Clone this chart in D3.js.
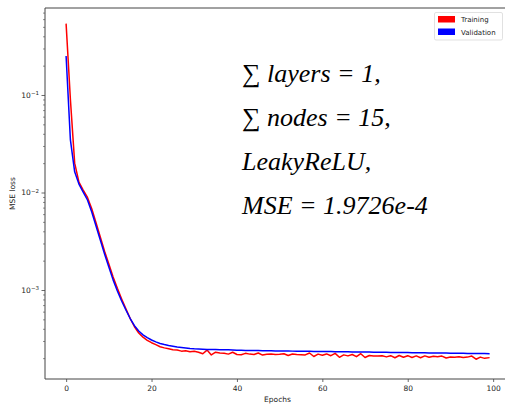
<!DOCTYPE html>
<html>
<head>
<meta charset="utf-8">
<script src="https://cdn.jsdelivr.net/npm/d3@7"></script>
<style>
  html, body { margin: 0; padding: 0; background: #fff; }
  svg { display: block; }
</style>
</head>
<body>
<svg id="chart" width="505" height="408"></svg>
<script>
// ---- data ----
const epochs = d3.range(0, 100);

const training = [
  0.53, 0.09, 0.020, 0.0128, 0.0106, 0.0089, 0.0068, 0.0049, 0.0035, 0.0025,
  0.00185, 0.00136, 0.00104, 8.1e-4, 6.4e-4, 5.1e-4, 4.2e-4, 3.62e-4, 3.28e-4, 3.05e-4,
  2.88e-4, 2.75e-4, 2.62e-4, 2.55e-4, 2.50e-4, 2.44e-4, 2.42e-4, 2.36e-4, 2.38e-4, 2.33e-4,
  2.35e-4, 2.30e-4, 2.22e-4, 2.42e-4, 2.16e-4, 2.30e-4, 2.26e-4, 2.24e-4, 2.20e-4, 2.30e-4,
  2.18e-4, 2.17e-4, 2.24e-4, 2.20e-4, 2.18e-4, 2.26e-4, 2.15e-4, 2.19e-4, 2.20e-4, 2.18e-4,
  2.19e-4, 2.22e-4, 2.13e-4, 2.21e-4, 2.18e-4, 2.17e-4, 2.16e-4, 2.26e-4, 2.08e-4, 2.20e-4,
  2.14e-4, 2.21e-4, 2.12e-4, 2.24e-4, 2.04e-4, 2.16e-4, 2.11e-4, 2.18e-4, 2.07e-4, 2.22e-4,
  2.03e-4, 2.13e-4, 2.11e-4, 2.10e-4, 2.12e-4, 2.06e-4, 2.12e-4, 2.02e-4, 2.13e-4, 2.04e-4,
  2.12e-4, 2.03e-4, 2.11e-4, 2.02e-4, 2.11e-4, 2.04e-4, 2.09e-4, 2.07e-4, 2.10e-4, 2.01e-4,
  2.06e-4, 2.04e-4, 2.07e-4, 2.03e-4, 2.05e-4, 2.10e-4, 1.95e-4, 2.05e-4, 1.99e-4, 2.02e-4
];

const validation = [
  0.247, 0.0346, 0.0163, 0.0122, 0.0101, 0.00838, 0.00631, 0.00453, 0.00326, 0.00234,
  0.00172, 0.00127, 9.77e-4, 7.71e-4, 6.24e-4, 5.10e-4, 4.30e-4, 3.80e-4, 3.47e-4, 3.25e-4,
  3.07e-4, 2.94e-4, 2.83e-4, 2.76e-4, 2.70e-4, 2.65e-4, 2.60e-4, 2.57e-4, 2.54e-4, 2.51e-4,
  2.49e-4, 2.48e-4, 2.47e-4, 2.46e-4, 2.455e-4, 2.45e-4, 2.445e-4, 2.44e-4, 2.435e-4, 2.43e-4,
  2.41e-4, 2.405e-4, 2.40e-4, 2.397e-4, 2.393e-4, 2.39e-4, 2.386e-4, 2.382e-4, 2.378e-4, 2.374e-4,
  2.37e-4, 2.367e-4, 2.364e-4, 2.361e-4, 2.358e-4, 2.355e-4, 2.352e-4, 2.349e-4, 2.346e-4, 2.343e-4,
  2.34e-4, 2.337e-4, 2.334e-4, 2.331e-4, 2.328e-4, 2.325e-4, 2.322e-4, 2.319e-4, 2.316e-4, 2.313e-4,
  2.31e-4, 2.307e-4, 2.304e-4, 2.301e-4, 2.298e-4, 2.295e-4, 2.292e-4, 2.289e-4, 2.286e-4, 2.283e-4,
  2.28e-4, 2.277e-4, 2.274e-4, 2.271e-4, 2.268e-4, 2.265e-4, 2.262e-4, 2.259e-4, 2.256e-4, 2.253e-4,
  2.25e-4, 2.247e-4, 2.244e-4, 2.241e-4, 2.238e-4, 2.235e-4, 2.232e-4, 2.229e-4, 2.226e-4, 2.222e-4
];

const xTicks = [0, 20, 40, 60, 80, 100];
const yMajorExps = [-1, -2, -3];
const seriesNames = ["Training", "Validation"];
const seriesColors = ["#ff0000", "#0000ff"];
const annotation = [
  { sigma: true,  text: "layers = 1," },
  { sigma: true,  text: "nodes = 15," },
  { sigma: false, text: "LeakyReLU," },
  { sigma: false, text: "MSE = 1.9726e-4" }
];

// ---- layout ----
const svg = d3.select("#chart");
const mLeft = 45, mRight = 510, mTop = 8, mBottom = 379;

const x = d3.scaleLinear().domain([-4.95, 103.95]).range([mLeft, mRight]);
const y = d3.scaleLog().domain([Math.pow(10, -0.1077), Math.pow(10, -3.9128)]).range([mTop, mBottom]);

const axisColor = "#444";
const tickFont = "DejaVu Sans, sans-serif";

// lines
const line = d3.line().x((d, i) => x(epochs[i])).y(d => y(d));
const g = svg.append("g");
g.append("path").datum(training)
  .attr("d", line).attr("fill", "none")
  .attr("stroke", seriesColors[0]).attr("stroke-width", 1.5)
  .attr("stroke-linejoin", "round").attr("stroke-linecap", "square");
g.append("path").datum(validation)
  .attr("d", line).attr("fill", "none")
  .attr("stroke", seriesColors[1]).attr("stroke-width", 1.5)
  .attr("stroke-linejoin", "round").attr("stroke-linecap", "square");

// x axis
const xAxis = d3.axisBottom(x).tickValues(xTicks).tickSize(3).tickPadding(4).tickFormat(d3.format("d"));
const xg = svg.append("g").attr("transform", `translate(0,${mBottom})`).call(xAxis);
xg.select(".domain").remove();
xg.selectAll(".tick line").attr("stroke", axisColor).attr("stroke-width", 0.8);
xg.selectAll(".tick text").attr("fill", "#222").style("font-family", tickFont).style("font-size", "7.5px");

// y axis: minor ticks
const [yHi, yLo] = y.domain();
const minorVals = [];
for (let e = -4; e <= 0; e++) {
  for (let m = 2; m <= 9; m++) {
    const v = m * Math.pow(10, e);
    if (v >= yLo && v <= yHi) minorVals.push(v);
  }
}
const yMinor = d3.axisLeft(y).tickValues(minorVals).tickSize(2).tickFormat("");
const ymg = svg.append("g").attr("transform", `translate(${mLeft},0)`).call(yMinor);
ymg.select(".domain").remove();
ymg.selectAll(".tick line").attr("stroke", axisColor).attr("stroke-width", 0.6);

const yMajor = d3.axisLeft(y).tickValues(yMajorExps.map(e => Math.pow(10, e))).tickSize(3.5).tickPadding(4).tickFormat("");
const yg = svg.append("g").attr("transform", `translate(${mLeft},0)`).call(yMajor);
yg.select(".domain").remove();
yg.selectAll(".tick line").attr("stroke", axisColor).attr("stroke-width", 0.8);
yg.selectAll(".tick").each(function(d) {
  const t = d3.select(this).append("text")
    .attr("x", -6).attr("dy", "0.32em")
    .attr("text-anchor", "end").attr("fill", "#222")
    .style("font-family", tickFont).style("font-size", "7.5px");
  t.append("tspan").text("10");
  t.append("tspan").attr("dy", "-0.45em").style("font-size", "5.5px")
    .text("\u2212" + Math.round(-Math.log10(d)));
});

// spines (left, top, bottom; right is beyond the visible canvas)
svg.append("path")
  .attr("d", `M${mRight},${mTop}H${mLeft}V${mBottom}H${mRight}`)
  .attr("fill", "none").attr("stroke", axisColor).attr("stroke-width", 1);

// axis labels
svg.append("text").attr("x", (mLeft + mRight) / 2).attr("y", 402)
  .attr("text-anchor", "middle").attr("fill", "#222")
  .style("font-family", tickFont).style("font-size", "7.5px").text("Epochs");
svg.append("text")
  .attr("transform", `translate(15,${(mTop + mBottom) / 2}) rotate(-90)`)
  .attr("text-anchor", "middle").attr("fill", "#222")
  .style("font-family", tickFont).style("font-size", "7.5px").text("MSE loss");

// legend
const lg = svg.append("g");
lg.append("rect").attr("x", 434.5).attr("y", 12.5).attr("width", 68).attr("height", 27.5)
  .attr("rx", 1.5).attr("fill", "#fff").attr("fill-opacity", 0.8)
  .attr("stroke", "#d9d9d9").attr("stroke-width", 0.8);
seriesNames.forEach((name, i) => {
  const yy = 16 + i * 12.5;
  lg.append("rect").attr("x", 438).attr("y", yy).attr("width", 17).attr("height", 6.5)
    .attr("fill", seriesColors[i]);
  lg.append("text").attr("x", 461).attr("y", yy + 6)
    .attr("fill", "#222").style("font-family", tickFont).style("font-size", "7px").text(name);
});

// annotation
const baselines = [82, 125.5, 169.5, 213.5];
annotation.forEach((a, i) => {
  const t = svg.append("text").attr("x", 242).attr("y", baselines[i])
    .attr("fill", "#000")
    .style("font-family", "'Liberation Serif', 'Times New Roman', serif")
    .style("font-size", "26px");
  if (a.sigma) {
    t.append("tspan").style("font-style", "normal").text("\u2211 ");
  }
  t.append("tspan").style("font-style", "italic").text(a.text);
});
</script>
</body>
</html>
